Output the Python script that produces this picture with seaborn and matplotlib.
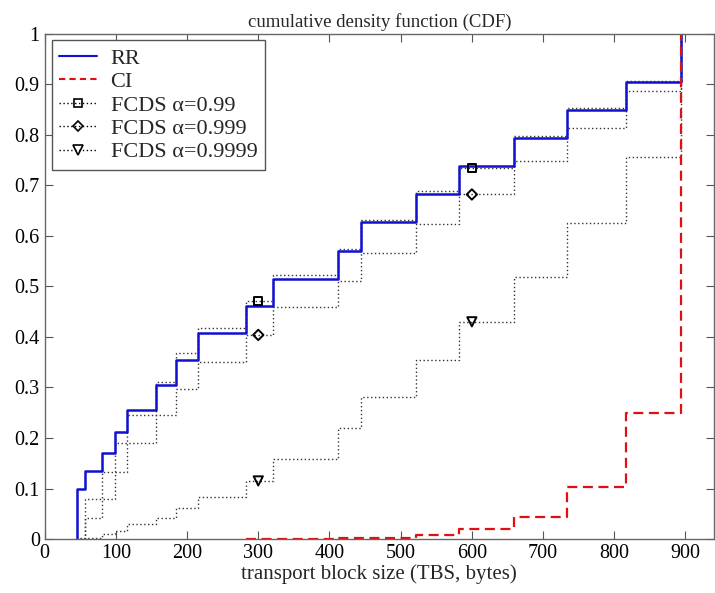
import matplotlib
matplotlib.use("Agg")
import matplotlib.pyplot as plt
from matplotlib.lines import Line2D
import numpy as np
import pandas as pd
import seaborn as sns

# step positions (transport block sizes, bytes) and CDF levels
tbs = [46, 56, 81, 99, 115, 156, 184, 215, 283, 321, 412, 444, 522, 582, 659, 734, 817, 894]
rr = [0.100, 0.135, 0.170, 0.211, 0.256, 0.305, 0.354, 0.407, 0.461, 0.515,
      0.571, 0.628, 0.683, 0.739, 0.793, 0.850, 0.904, 1.0]
ci = [np.nan] * 8 + [0.001, 0.001, 0.002, 0.003, 0.008, 0.019, 0.043, 0.103, 0.249, 1.0]
fcds_099 = [0.0, 0.079, 0.079, 0.190, 0.190, 0.310, 0.368, 0.417, 0.471, 0.523,
            0.574, 0.632, 0.688, 0.735, 0.797, 0.853, 0.906, 1.0]
fcds_0999 = [0.0, 0.042, 0.133, 0.133, 0.245, 0.245, 0.296, 0.351, 0.404, 0.459,
             0.511, 0.566, 0.624, 0.682, 0.748, 0.814, 0.886, 1.0]
fcds_09999 = [0.003, 0.003, 0.010, 0.016, 0.029, 0.042, 0.061, 0.083, 0.115, 0.158,
              0.219, 0.282, 0.354, 0.430, 0.519, 0.626, 0.757, 1.0]
marker_tbs = [300, 600]

x_ticks = list(range(0, 1000, 100))
y_ticks = [0, 0.1, 0.2, 0.3, 0.4, 0.5, 0.6, 0.7, 0.8, 0.9, 1.0]
y_tick_labels = ["0", "0.1", "0.2", "0.3", "0.4", "0.5", "0.6", "0.7", "0.8", "0.9", "1"]

sns.set_style("ticks")
plt.rcParams["font.family"] = ["Liberation Serif", "DejaVu Serif"]

fig = plt.figure(figsize=(7.15, 5.93), dpi=100)
ax = fig.add_axes([0.0625, 0.091, 0.936, 0.852])


def step_frame(values):
    # prepend a zero so each curve rises from the x axis at its first step
    start = next(i for i, v in enumerate(values) if not np.isnan(v))
    xs = [tbs[start]] + tbs[start:]
    ys = [0.0] + list(values[start:])
    return pd.DataFrame({"tbs": xs, "cdf": ys})


def level_at(values, x):
    i = np.searchsorted(tbs, x, side="right") - 1
    return values[i]


blue, red, grey = "#1010d0", "#e01010", "#333333"
dots = (0, (1, 1.8))
series = [
    ("RR", rr, dict(color=blue, linestyle="-", linewidth=1.8)),
    ("CI", ci, dict(color=red, linestyle=(0, (4.5, 2.5)), linewidth=1.6)),
    ("FCDS 0.99", fcds_099, dict(color=grey, linestyle=dots, linewidth=1.0)),
    ("FCDS 0.999", fcds_0999, dict(color=grey, linestyle=dots, linewidth=1.0)),
    ("FCDS 0.9999", fcds_09999, dict(color=grey, linestyle=dots, linewidth=1.0)),
]
# dotted ones first so the blue RR line sits on top
for name, vals, style in series[2:] + series[:2]:
    df = step_frame(vals)
    sns.lineplot(data=df, x="tbs", y="cdf", ax=ax, sort=False, estimator=None,
                 drawstyle="steps-post", **style)

markers = ["s", "D", "v"]
msizes = [34, 28, 44]
for (name, vals, style), mk, ms in zip(series[2:], markers, msizes):
    mdf = pd.DataFrame({"tbs": marker_tbs, "cdf": [level_at(vals, x) for x in marker_tbs]})
    sns.scatterplot(data=mdf, x="tbs", y="cdf", ax=ax, marker=mk, s=ms,
                    facecolor="none", edgecolor="black", linewidth=1.4, zorder=5)

ax.set_xlim(0, 940)
ax.set_ylim(0, 1)
ax.set_xticks(x_ticks)
ax.set_yticks(y_ticks)
ax.set_yticklabels(y_tick_labels)
ax.tick_params(direction="in", length=6, width=0.8, labelsize=14.5, top=True, right=True,
               colors="#555555", labelcolor="black")
for s in ax.spines.values():
    s.set_color("#666666")
    s.set_linewidth(1.0)

ax.set_xlabel("transport block size (TBS, bytes)", fontsize=15, labelpad=1)
ax.set_ylabel("")
ax.set_title("cumulative density function (CDF)", fontsize=13.5, pad=5)

handles = [
    Line2D([], [], color=blue, linewidth=1.5),
    Line2D([], [], color=red, linestyle=(0, (3, 2)), linewidth=1.5),
    Line2D([], [], color="black", linestyle=dots, linewidth=1.0, marker="s",
           markersize=6, markerfacecolor="none", markeredgewidth=1.2),
    Line2D([], [], color="black", linestyle=dots, linewidth=1.0, marker="D",
           markersize=5, markerfacecolor="none", markeredgewidth=1.2),
    Line2D([], [], color="black", linestyle=dots, linewidth=1.0, marker="v",
           markersize=7, markerfacecolor="none", markeredgewidth=1.2),
]
labels = ["RR", "CI", "FCDS α=0.99", "FCDS α=0.999", "FCDS α=0.9999"]
leg = ax.legend(handles, labels, loc="upper left", bbox_to_anchor=(0.0105, 0.987),
                fontsize=16, frameon=True, fancybox=False, edgecolor="#555555",
                framealpha=1, borderpad=0.35, labelspacing=0.13, handlelength=1.7,
                handletextpad=0.6, borderaxespad=0)
leg.get_frame().set_linewidth(1.0)

fig.savefig("out.png", dpi=100)
